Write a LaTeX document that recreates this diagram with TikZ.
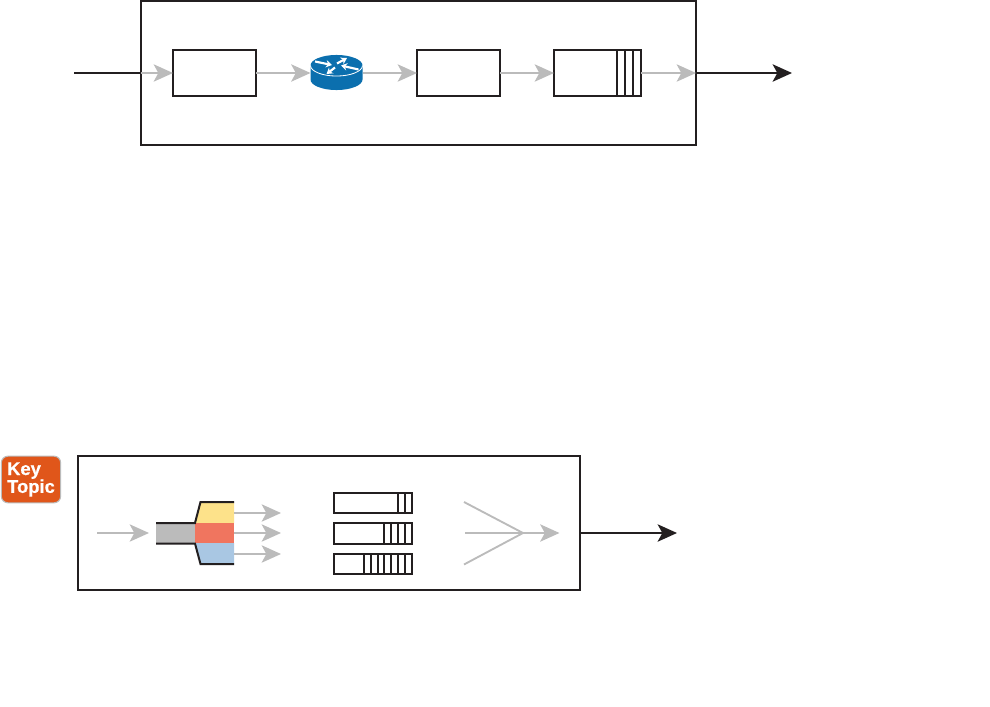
\documentclass[tikz,border=0pt]{standalone}
\usepackage{fontspec}
\setsansfont{Liberation Sans}
\usepackage{tikz}
\usetikzlibrary{positioning,arrows.meta}
\definecolor{inkblack}{HTML}{231F20}
\definecolor{flowgray}{HTML}{BBBBBB}
\definecolor{routerblue}{HTML}{0B6FAE}
\definecolor{keyorange}{HTML}{E0561A}
\definecolor{bandyellow}{HTML}{FDE28A}
\definecolor{bandred}{HTML}{F0755F}
\definecolor{bandblue}{HTML}{A9C7E3}
\tikzset{
  frame/.style={draw=inkblack, line width=1.5pt, inner sep=0pt, outer sep=0pt},
  stagebox/.style={draw=inkblack, line width=1.5pt, inner sep=0pt, outer sep=0pt, minimum width=62.25pt, minimum height=34.5pt},
  queuebox/.style={draw=inkblack, line width=1.5pt, inner sep=0pt, outer sep=0pt, minimum width=58.5pt, minimum height=15pt},
  divider/.style={draw=inkblack, line width=1.5pt},
  edge/.style={inkblack, line width=1.5pt},
  fl/.style={-{Stealth[length=14.5pt, width=13pt, inset=3.5pt]}, flowgray, line width=1.4pt},
  plainfl/.style={flowgray, line width=1.4pt},
  bl/.style={-{Stealth[length=14.5pt, width=13pt, inset=3.5pt]}, inkblack, line width=1.6pt},
  blplain/.style={inkblack, line width=1.6pt},
  routerarrow/.style={-{Stealth[length=4.5pt, width=5.5pt]}, white, line width=1.6pt},
  keybadge/.style={draw=flowgray, line width=0.8pt, fill=keyorange, rounded corners=5pt, text=white, align=left, inner sep=0pt, outer sep=0pt,
    minimum width=44.5pt, minimum height=35pt, font=\sffamily\bfseries\fontsize{13.8}{12.75}\selectfont\addfontfeature{FakeBold=0.6}},
}

\begin{document}
\begin{tikzpicture}[x=0.75pt, y=-0.75pt]
\useasboundingbox (0,0) rectangle (990,707);
% upper row
\node[frame, minimum width=416.25pt, minimum height=108pt] (upper) at (418.5,73) {};
\node[stagebox] (inbox) at (214.5,73) {};
\node[inner sep=0pt, outer sep=0pt, minimum width=39pt, minimum height=26pt] (router) at (336.5,73) {};
\node[stagebox, right=40.875pt of router] (midbox) {};
\node[stagebox, minimum width=65.25pt, right=40.5pt of midbox] (outbox) {};
\coordinate (inlet) at (74,73);
\coordinate (outlet) at (792,73);
\foreach \x in {617,625,633}
  \draw[divider] (\x,50) -- (\x,96);
% router
\fill[routerblue] (310.5,65.5) -- (310.5,79.5) arc[start angle=180, end angle=360, x radius=19.5pt, y radius=7.9pt]
  -- (362.5,65.5) arc[start angle=0, end angle=180, x radius=19.5pt, y radius=7.9pt] -- cycle;
\draw[white, line width=0.6pt] (310.5,65.5) arc[start angle=180, end angle=360, x radius=19.5pt, y radius=7.9pt];
\draw[routerarrow] (315,61.5) -- (332,65);
\draw[routerarrow] (337,63.5) -- (347,58);
\draw[routerarrow] (358.5,69.5) -- (341,65.5);
\draw[routerarrow] (335,67.5) -- (326.5,74);
% upper arrows
\draw[blplain] (inlet) -- (upper.west);
\draw[fl] (upper.west) -- (inbox.west);
\draw[fl] (inbox.east) -- (router.west);
\draw[fl] (router.east) -- (midbox.west);
\draw[fl] (midbox.east) -- (outbox.west);
\draw[fl] (outbox.east) -- (upper.east);
\draw[bl] (upper.east) -- (outlet);
% key badge
\node[keybadge] (key) at (31,479.5) {Key\\[-0.5pt]Topic};
% lower row
\node[frame, minimum width=376.5pt, minimum height=100.5pt] (lower) at (329,523) {};
\coordinate (feed) at (97,533);
\coordinate (feedend) at (149,533);
\draw[fl] (feed) -- (feedend);
\node[fill=flowgray, inner sep=0pt, outer sep=0pt, minimum width=29.25pt, minimum height=15pt] (cable) at (175.5,533) {};
\fill[bandyellow] (195,523) -- (200.5,502) -- (234,502) -- (234,523) -- cycle;
\node[fill=bandred, inner sep=0pt, outer sep=0pt, minimum width=29.25pt, minimum height=15pt] (redband) at (214.5,533) {};
\fill[bandblue] (195,543) -- (200.5,564) -- (234,564) -- (234,543) -- cycle;
\draw[edge] (156,523) -- (195,523) -- (200.5,502) -- (234,502);
\draw[edge] (156,543.5) -- (195,543.5) -- (200.5,564) -- (234,564);
\coordinate (ystart) at (234,513);
\coordinate (bstart) at (234,554);
\coordinate (yend) at (281,513);
\coordinate (rend) at (281,533);
\coordinate (bend) at (281,554);
\draw[fl] (ystart) -- (yend);
\draw[fl] (redband.east) -- (rend);
\draw[fl] (bstart) -- (bend);
% queues
\node[queuebox] (qone) at (373,503) {};
\node[queuebox, minimum height=16pt] (qtwo) at (373,533.5) {};
\node[queuebox] (qthree) at (373,564) {};
\foreach \x in {398,404.5}
  \draw[divider] (\x,493) -- (\x,513);
\foreach \x in {383.5,390.5,397.5,404.5}
  \draw[divider] (\x,523) -- (\x,544);
\foreach \x in {363.5,370.5,377.5,384,390.5,397.5,404.5}
  \draw[divider] (\x,554) -- (\x,574);
% merge
\coordinate (mtop) at (464,502);
\coordinate (mmid) at (465,533);
\coordinate (mbot) at (464,564.5);
\coordinate (mjoin) at (523,533);
\coordinate (mtip) at (559.5,533);
\coordinate (lout) at (580,533);
\coordinate (ltip) at (677,533);
\draw[plainfl] (mtop) -- (mjoin);
\draw[plainfl] (mbot) -- (mjoin);
\draw[fl] (mmid) -- (mtip);
\draw[bl] (lout) -- (ltip);
\end{tikzpicture}
\end{document}
